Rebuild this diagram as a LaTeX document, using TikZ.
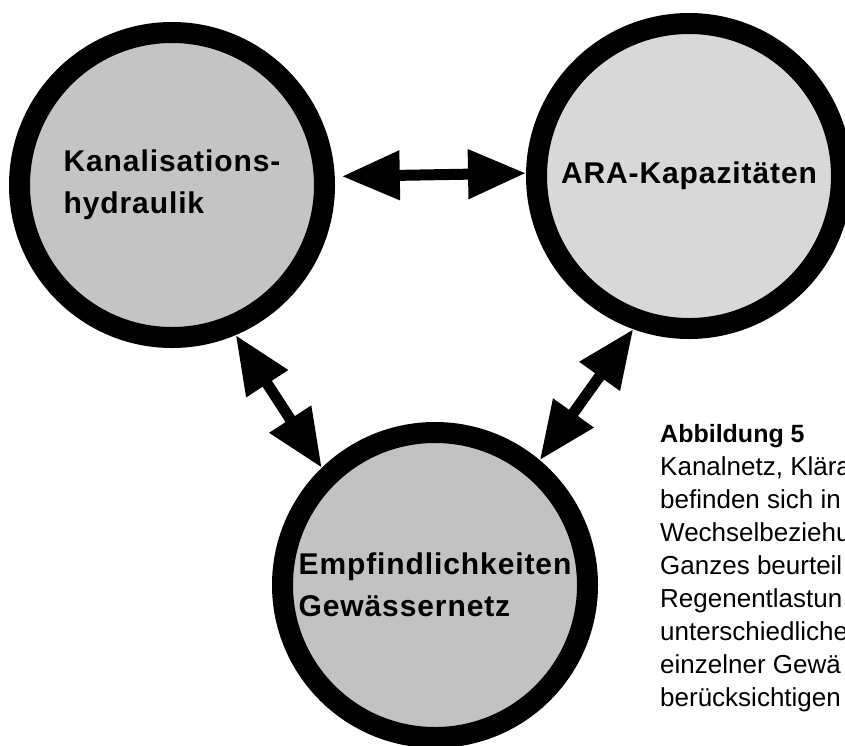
\documentclass[tikz,border=0pt]{standalone}
\usepackage{fontspec}
\setmainfont{Liberation Sans}
\newfontfamily\roundfont[LetterSpace=3]{Liberation Sans}
\usetikzlibrary{arrows.meta}
\definecolor{kanalfill}{RGB}{196,196,196}
\definecolor{arafill}{RGB}{216,216,216}
\definecolor{gewfill}{RGB}{194,194,194}

\begin{document}
\begin{tikzpicture}[x=1pt, y=-1pt]
    \tikzstyle{sphere} = [circle, draw, line width=21pt, minimum size=305pt,
        inner sep=0pt, align=left, font=\roundfont\bfseries\fontsize{30}{42}\selectfont]
    \tikzstyle{link} = [line width=11pt,
        {Triangle[length=58pt, width=47pt]}-{Triangle[length=58pt, width=47pt]}]
    \tikzstyle{caption} = [anchor=base west, inner sep=0pt,
        font=\fontsize{26}{33}\selectfont]
    \useasboundingbox (0, 0) rectangle (845, 745);

    \node[sphere, fill=kanalfill] (kanal) at (172, 185) {Kanalisations-\\hydraulik};
    \node[sphere, fill=arafill] (ara) at (689, 176) {ARA-Kapazit\"aten};
    \node[sphere, fill=gewfill] (gew) at (435, 585) {Empfindlichkeiten\\Gew\"assernetz};

    \draw[link, shorten <=7pt] (kanal.3.5) -- (ara.179);
    \draw[link] (kanal.-67) -- (gew.134.5);
    \draw[link] (ara.-110) -- (gew.50);

    \node[caption, font=\bfseries\fontsize{25}{33}\selectfont] (abb) at (660, 442) {Abbildung 5};
    \foreach \txt [count=\i] in {{Kanalnetz, Klära}, befinden sich in, Wechselbeziehu,
            Ganzes beurteil, Regenentlastun, unterschiedliche, {einzelner Gewä},
            berücksichtigen}
        \node[caption] (cap\i) at (660, 442+33*\i) {\txt};
\end{tikzpicture}
\end{document}
